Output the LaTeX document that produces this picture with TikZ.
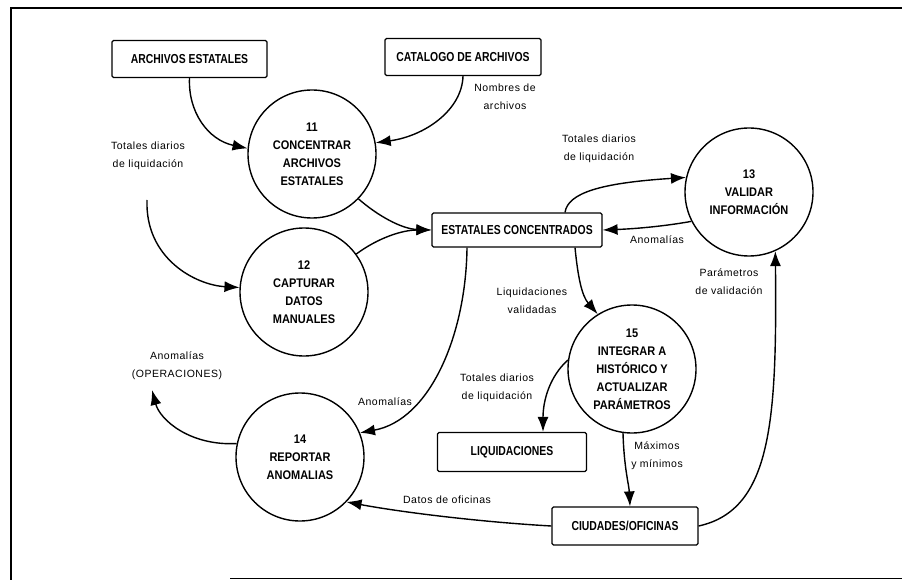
\documentclass[tikz,border=0pt]{standalone}
\usepackage{fontspec}
\setmainfont{Liberation Sans}
\newfontfamily\boxfont[FakeStretch=0.8]{Liberation Sans}
\newfontfamily\circfont[FakeStretch=0.88]{Liberation Sans}
\newfontfamily\lblfont[LetterSpace=5]{Liberation Sans}
\usetikzlibrary{arrows.meta}
\begin{document}
\begin{tikzpicture}[x=1pt,y=-1pt,
  proc/.style={circle, draw, line width=1.4pt, minimum size=128pt, inner sep=0pt, align=center,
    font=\circfont\bfseries\fontsize{12.5}{18}\selectfont},
  store/.style={draw, line width=1.2pt, rounded corners=1.5pt, minimum height=37pt, inner sep=0pt,
    font=\boxfont\bfseries\fontsize{13}{15}\selectfont},
  lbl/.style={align=center, inner sep=0pt, font=\lblfont\fontsize{10.5}{18}\selectfont},
  flow/.style={line width=1.4pt, -{Latex[length=15pt,width=11pt]}},
  frame/.style={line width=2pt}
]
\useasboundingbox (0,0) rectangle (902,580);
% frame
\coordinate (fa) at (11,580);
\coordinate (fb) at (11,8);
\coordinate (fc) at (902,8);
\coordinate (fd) at (230,578.5);
\coordinate (fe) at (902,578.5);
\draw[frame] (fa) -- (fb) -- (fc);
\draw[line width=1.6pt] (fd) -- (fe);

% stores
\node[store, minimum width=155pt] (ae) at (189.5,59) {ARCHIVOS ESTATALES};
\node[store, minimum width=156pt] (ca) at (463,57) {CATALOGO DE ARCHIVOS};
\node[store, minimum width=170pt, minimum height=34pt] (ec) at (517,230) {ESTATALES CONCENTRADOS};
\node[store, minimum width=149pt, minimum height=39pt] (lq) at (512,452) {LIQUIDACIONES};
\node[store, minimum width=146pt, minimum height=38pt] (cf) at (625,526) {CIUDADES/OFICINAS};

% processes
\node[proc] (c11) at (312,154) {11\\CONCENTRAR\\ARCHIVOS\\ESTATALES};
\node[proc] (c12) at (304,292) {12\\CAPTURAR\\DATOS\\MANUALES};
\node[proc] (c13) at (749,192) {13\\VALIDAR\\INFORMACIÓN};
\node[proc] (c14) at (300,457) {14\\REPORTAR\\ANOMALIAS};
\node[proc] (c15) at (632,369) {15\\INTEGRAR A\\HISTÓRICO Y\\ACTUALIZAR\\PARÁMETROS};

% labels
\node[lbl] (l1) at (505,97) {Nombres de\\archivos};
\node[lbl] (l2) at (148,156) {Totales diarios\\de liquidación};
\node[lbl] (l3) at (599,149) {Totales diarios\\de liquidación};
\node[lbl] (l4) at (657,240) {Anomalías};
\node[lbl] (l5) at (532,301) {Liquidaciones\\validadas};
\node[lbl] (l6) at (729,282) {Parámetros\\de validación};
\node[lbl] (l7) at (497,388) {Totales diarios\\de liquidación};
\node[lbl] (l8) at (385,402) {Anomalías};
\node[lbl] (l9) at (177,366) {Anomalías\\(OPERACIONES)};
\node[lbl] (l10) at (657,456) {Máximos\\y mínimos};
\node[lbl] (l11) at (447,500) {Datos de oficinas};

% free ends
\coordinate (ts) at (147,200);
\coordinate (op) at (152,390);

% flows
\draw[flow] (ae.south) .. controls (188,112) and (208,140) .. (c11.175);
\draw[flow] (ca.south) .. controls (462,110) and (425,136) .. (c11.10);
\draw[flow] (ts) .. controls (145,258) and (195,285) .. (c12.176);
\draw[flow] (c11.-44) .. controls (378,216) and (402,229) .. (ec.west);
\draw[flow] (c12.36) .. controls (378,238) and (402,230) .. (ec.west);
\draw[flow] ([xshift=48pt]ec.north) .. controls (568,193) and (600,183) .. (c13.167);
\draw[flow] (c13.207) .. controls (660,227) and (630,229) .. (ec.east);
\draw[flow] ([xshift=58pt]ec.south) .. controls (578,278) and (582,296) .. (c15.122);
\draw[flow] ([xshift=-50pt]ec.south) .. controls (466,335) and (430,420) .. (c14.22);
\draw[flow] (c14.168) .. controls (190,446) and (160,420) .. (op);
\draw[flow] (c15.172) .. controls (550,376) and (543,400) .. ([xshift=31pt]lq.north);
\draw[flow] (c15.-98) .. controls (624,468) and (629,485) .. ([xshift=5pt]cf.north);
\draw[flow] (cf.west) .. controls (480,522) and (400,512) .. (c14.-44);
\draw[flow] (cf.east) .. controls (772,510) and (777,420) .. (c13.-66);
\end{tikzpicture}
\end{document}
